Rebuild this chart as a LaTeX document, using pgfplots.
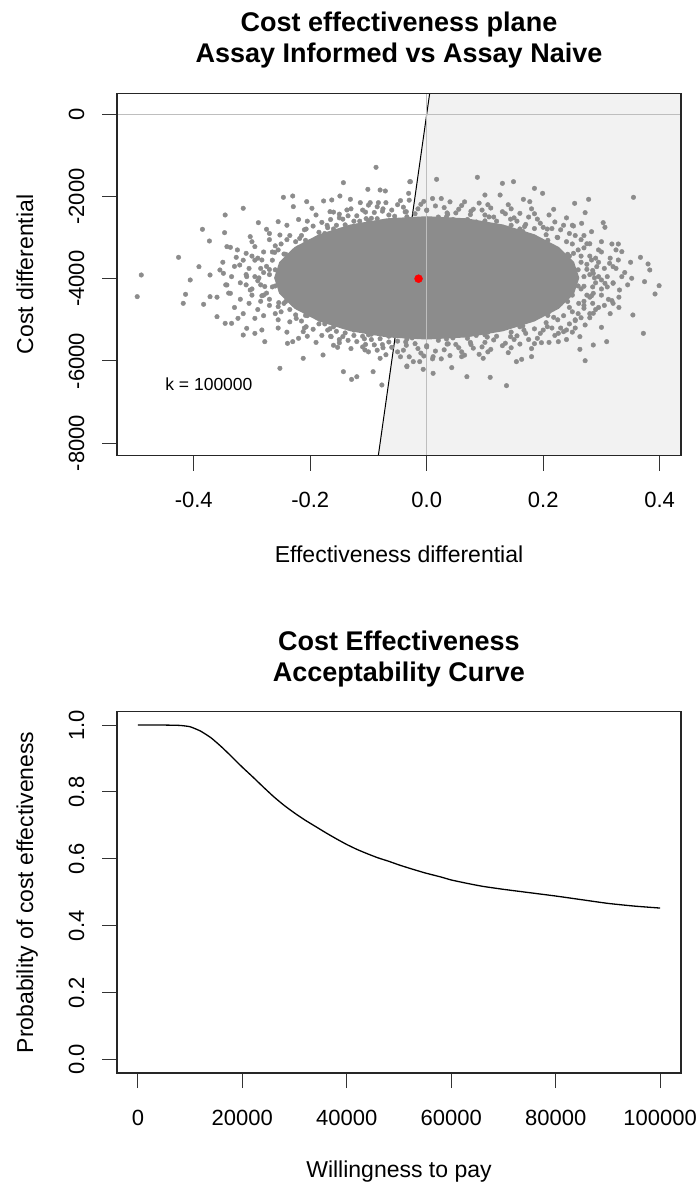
\documentclass[border=0pt]{standalone}
\usepackage{fontspec}
\setmainfont{Liberation Sans}
\usepackage{pgfplots}
\pgfplotsset{compat=1.18}
\usepackage{pgfplotstable}
\definecolor{ptgray}{RGB}{140,140,140}
\definecolor{shade}{RGB}{242,242,242}
\definecolor{zline}{RGB}{190,190,190}

% region of the cloud where the points cover the plane fully
\pgfplotstableread{
x y
0.262 -3980
0.253 -3592
0.227 -3230
0.185 -2920
0.131 -2681
0.068 -2531
0.000 -2480
-0.068 -2531
-0.131 -2681
-0.185 -2920
-0.227 -3230
-0.253 -3592
-0.262 -3980
-0.253 -4368
-0.227 -4730
-0.185 -5040
-0.131 -5279
-0.068 -5429
0.000 -5480
0.068 -5429
0.131 -5279
0.185 -5040
0.227 -4730
0.253 -4368
0.262 -3980
}\halopoly

\pgfplotstableread{
x y
0.275 -3772
0.252 -3383
0.224 -2993
0.168 -2731
0.107 -2497
0.036 -2434
-0.037 -2375
-0.104 -2539
-0.171 -2702
-0.218 -3020
-0.261 -3360
-0.270 -3776
-0.278 -4190
-0.254 -4583
-0.224 -4967
-0.166 -5217
-0.107 -5463
-0.036 -5541
0.037 -5585
0.104 -5421
0.167 -5253
0.218 -4939
0.261 -4600
0.270 -4184
0.288 -3980
0.283 -3545
0.250 -3155
0.207 -2792
0.144 -2551
0.076 -2357
0.000 -2330
-0.076 -2357
-0.144 -2551
-0.207 -2792
-0.250 -3155
-0.283 -3545
-0.288 -3980
-0.283 -4415
-0.250 -4805
-0.207 -5168
-0.144 -5409
-0.076 -5603
0.000 -5630
0.076 -5603
0.144 -5409
0.207 -5168
0.250 -4805
0.283 -4415
0.260 -3783
0.242 -3406
0.208 -3067
0.160 -2790
0.100 -2594
0.034 -2493
-0.034 -2493
-0.100 -2594
-0.160 -2790
-0.208 -3067
-0.242 -3406
-0.260 -3783
-0.260 -4177
-0.242 -4554
-0.208 -4893
-0.160 -5170
-0.100 -5366
-0.034 -5467
0.034 -5467
0.100 -5366
0.160 -5170
0.208 -4893
0.242 -4554
0.260 -4177
-0.490 -3910
-0.497 -4437
-0.426 -3480
-0.406 -4031
-0.391 -3708
-0.385 -2798
-0.373 -3083
-0.418 -4599
-0.383 -4623
-0.372 -4437
-0.414 -4380
-0.372 -3910
-0.346 -2450
-0.315 -2287
-0.347 -2880
-0.343 -3220
-0.337 -3237
-0.355 -3788
-0.349 -3869
-0.343 -4153
-0.337 -4356
-0.346 -5086
-0.360 -4924
-0.335 -5086
-0.315 -5370
-0.295 -5330
-0.278 -5532
-0.252 -6180
-0.212 -5937
-0.178 -5856
-0.143 -6262
-0.129 -6450
-0.120 -6385
-0.092 -6262
-0.077 -6586
-0.080 -5937
-0.034 -6140
-0.023 -6018
-0.006 -6205
-0.106 -5734
-0.153 -5670
-0.164 -5410
-0.230 -5532
-0.239 -5573
-0.212 -5289
-0.283 -5248
-0.295 -4964
-0.309 -5207
-0.324 -4964
-0.087 -1290
-0.143 -1664
-0.101 -1826
-0.080 -1842
-0.071 -1866
-0.029 -1640
-0.031 -1923
-0.246 -2020
-0.230 -1988
-0.206 -2125
-0.229 -2247
-0.197 -2287
-0.177 -2109
-0.163 -2085
-0.149 -1988
-0.131 -2068
-0.114 -2150
-0.097 -2150
-0.083 -2150
-0.166 -2369
-0.137 -2328
-0.289 -2637
-0.275 -2798
-0.255 -2612
-0.252 -2937
-0.303 -2977
-0.295 -3220
-0.310 -3383
-0.327 -3480
-0.321 -3667
-0.309 -3950
-0.303 -4275
0.355 -2020
0.367 -3480
0.380 -3642
0.383 -3788
0.352 -3990
0.374 -4072
0.399 -4170
0.392 -4372
0.354 -4883
0.372 -5329
0.318 -3156
0.329 -3156
0.335 -3342
0.306 -2750
0.303 -2637
0.314 -3626
0.320 -3707
0.329 -3545
0.300 -4031
0.306 -4112
0.320 -4112
0.331 -4275
0.312 -4502
0.318 -4534
0.300 -5183
0.309 -5532
0.286 -5613
0.272 -5995
0.263 -5718
0.226 -5532
0.197 -5557
0.180 -5897
0.163 -5962
0.154 -6018
0.137 -6602
0.109 -6400
0.069 -6384
0.011 -6302
-0.034 -6124
0.043 -6164
0.060 -5897
0.097 -5937
0.011 -5897
-0.012 -6018
0.087 -1533
0.017 -1582
-0.028 -1640
0.130 -1680
0.149 -1640
0.185 -1802
0.199 -1923
0.100 -1964
0.126 -1964
0.166 -2069
0.177 -2126
0.218 -2312
0.254 -2166
0.278 -2069
0.272 -2393
0.252 -2718
0.266 -2653
0.283 -2856
0.292 -3707
0.286 -3869
0.286 -4356
0.286 -4842
0.272 -5126
0.263 -5410
0.240 -5248
0.226 -5329
-0.240 -2700
-0.220 -2560
-0.210 -2810
-0.190 -2450
-0.180 -2630
-0.170 -2760
-0.160 -2380
-0.150 -2520
-0.140 -2690
-0.130 -2300
-0.120 -2470
-0.115 -2600
-0.100 -2210
-0.090 -2390
-0.085 -2540
-0.070 -2150
-0.060 -2330
-0.055 -2480
-0.040 -2260
-0.030 -2090
-0.020 -2420
-0.010 -2190
0.000 -2340
0.010 -2050
0.020 -2500
0.030 -2270
0.040 -2130
0.050 -2400
0.060 -2220
0.070 -2560
0.080 -2310
0.090 -2160
0.100 -2450
0.110 -2280
0.120 -2600
0.130 -2370
0.140 -2200
0.150 -2520
0.160 -2410
0.170 -2680
0.180 -2300
0.190 -2550
0.200 -2750
0.210 -2450
0.220 -2620
0.230 -2810
0.240 -2520
0.250 -2700
-0.235 -2950
-0.205 -2600
-0.175 -2900
-0.145 -2850
-0.125 -2750
-0.095 -2650
-0.065 -2600
-0.045 -2650
-0.025 -2560
0.005 -2600
0.025 -2680
0.045 -2560
0.065 -2700
0.085 -2620
0.105 -2700
0.125 -2780
0.145 -2700
0.165 -2850
0.185 -2780
0.205 -2930
0.225 -3000
0.245 -2900
0.265 -3050
0.280 -3150
0.295 -3300
-0.240 -5300
-0.220 -5450
-0.210 -5200
-0.190 -5550
-0.180 -5380
-0.170 -5250
-0.160 -5620
-0.150 -5480
-0.140 -5320
-0.130 -5700
-0.120 -5530
-0.110 -5400
-0.100 -5780
-0.090 -5610
-0.080 -5460
-0.070 -5850
-0.060 -5670
-0.050 -5520
-0.040 -5740
-0.030 -5900
-0.020 -5580
-0.010 -5810
0.000 -5660
0.010 -5950
0.020 -5500
0.030 -5730
0.040 -5870
0.050 -5600
0.060 -5780
0.070 -5450
0.080 -5690
0.090 -5840
0.100 -5550
0.110 -5720
0.120 -5400
0.130 -5630
0.140 -5800
0.150 -5480
0.160 -5590
0.170 -5330
0.180 -5700
0.190 -5450
0.200 -5250
0.210 -5550
0.220 -5380
0.230 -5200
0.240 -5480
0.250 -5300
-0.235 -5050
-0.205 -5400
-0.175 -5100
-0.145 -5150
-0.125 -5250
-0.095 -5350
-0.065 -5400
-0.045 -5350
-0.025 -5440
0.005 -5400
0.025 -5320
0.045 -5440
0.065 -5300
0.085 -5380
0.105 -5300
0.125 -5220
0.145 -5300
0.165 -5150
0.185 -5220
0.205 -5070
0.225 -5000
0.245 -5100
0.265 -4950
0.280 -4850
0.295 -4700
-0.200 -3100
-0.210 -3400
-0.205 -3700
-0.200 -4300
-0.210 -4600
-0.205 -4900
-0.220 -3250
-0.225 -3550
-0.230 -3850
-0.220 -4100
-0.225 -4450
-0.235 -4750
-0.240 -3050
-0.245 -3400
-0.250 -3700
-0.245 -4000
-0.250 -4300
-0.245 -4600
-0.260 -3200
-0.265 -3550
-0.270 -3900
-0.265 -4200
-0.270 -4500
-0.260 -4850
-0.280 -3350
-0.285 -3750
-0.290 -4050
-0.280 -4400
-0.295 -3550
-0.300 -4250
-0.310 -3900
-0.305 -4600
-0.320 -4100
-0.330 -3700
-0.340 -4350
-0.270 -3050
-0.255 -5000
-0.290 -4750
-0.300 -3450
0.200 -3200
0.210 -3500
0.205 -3800
0.210 -4200
0.200 -4500
0.210 -4800
0.220 -3350
0.225 -3650
0.230 -3950
0.225 -4300
0.230 -4600
0.235 -4900
0.240 -3100
0.245 -3450
0.250 -3800
0.245 -4100
0.250 -4400
0.245 -4700
0.260 -3300
0.265 -3600
0.270 -3950
0.265 -4250
0.270 -4550
0.260 -4850
0.280 -3450
0.285 -3800
0.290 -4100
0.280 -4450
0.295 -3600
0.300 -4250
0.310 -3950
0.305 -4650
0.320 -4100
0.325 -3750
0.330 -4450
0.275 -3150
0.255 -5000
0.290 -4750
0.300 -3350
-0.195 -2720
-0.185 -2870
-0.165 -2560
-0.155 -2700
-0.135 -2470
-0.125 -2600
-0.105 -2380
-0.095 -2530
-0.075 -2300
-0.065 -2450
-0.050 -2200
-0.035 -2370
-0.015 -2300
0.015 -2230
0.035 -2400
0.055 -2310
0.075 -2440
0.095 -2330
0.115 -2500
0.135 -2420
0.155 -2600
0.175 -2500
0.195 -2650
0.215 -2780
0.235 -2700
-0.215 -2950
-0.225 -3100
0.255 -2950
0.270 -3250
-0.255 -3300
-0.005 -2120
0.025 -2050
-0.045 -2100
0.065 -2130
0.105 -2200
-0.085 -2250
-0.110 -2330
0.145 -2300
-0.150 -2430
0.185 -2420
-0.195 -5230
-0.185 -5100
-0.165 -5400
-0.155 -5280
-0.135 -5500
-0.125 -5380
-0.105 -5600
-0.095 -5480
-0.075 -5680
-0.065 -5540
-0.050 -5780
-0.035 -5620
-0.015 -5700
0.015 -5760
0.035 -5590
0.055 -5680
0.075 -5550
0.095 -5660
0.115 -5490
0.135 -5570
0.155 -5390
0.175 -5480
0.195 -5330
0.215 -5200
0.235 -5290
-0.215 -5030
-0.225 -4880
0.255 -5020
0.270 -4720
-0.255 -4680
-0.005 -5880
0.025 -5950
-0.045 -5900
0.065 -5860
0.105 -5780
-0.085 -5740
-0.110 -5660
0.145 -5680
-0.150 -5560
0.185 -5580
-0.265 -3350
-0.275 -3700
-0.280 -3850
-0.285 -4150
-0.275 -4350
-0.270 -4650
-0.290 -3500
-0.295 -3950
-0.300 -4400
-0.285 -4550
-0.305 -3750
-0.310 -4150
-0.315 -3550
-0.320 -4500
-0.335 -3950
-0.345 -4150
-0.325 -3300
-0.330 -4700
-0.350 -3600
-0.360 -4450
-0.315 -4850
-0.300 -3100
-0.280 -4900
-0.270 -2900
-0.255 -5200
0.265 -3450
0.275 -3650
0.280 -3900
0.285 -4200
0.275 -4400
0.270 -4650
0.290 -3500
0.295 -3950
0.300 -4400
0.285 -4600
0.305 -3750
0.310 -4200
0.315 -3500
0.320 -4600
0.335 -3950
0.345 -4150
0.325 -3300
0.330 -4700
0.350 -3600
0.340 -3850
0.315 -4850
0.300 -3100
0.280 -4950
0.270 -2950
0.255 -5200
}\scatterpts

\pgfplotstableread{
x y
0 1.000
5000 1.000
8000 0.999
10000 0.995
12000 0.982
14000 0.962
16000 0.935
18000 0.905
20000 0.874
22000 0.845
24000 0.815
26000 0.786
28000 0.760
30000 0.737
32000 0.716
34000 0.697
36000 0.678
38000 0.660
40000 0.643
42000 0.628
44000 0.615
46000 0.603
48000 0.593
50000 0.582
52000 0.572
55000 0.558
58000 0.546
60000 0.537
63000 0.527
66000 0.518
70000 0.509
75000 0.499
80000 0.489
85000 0.478
90000 0.467
95000 0.459
100000 0.453
}\ceac

\pgfplotsset{
  rstyle/.style={
    scale only axis, axis on top, clip=true,
    scaled ticks=false,
    tick align=outside, major tick length=15bp,
    xtick pos=bottom, ytick pos=left,
    tick style={line width=1bp, black!80},
    axis line style={line width=1.2bp, black!85},
    ticklabel style={font=\fontsize{22bp}{26bp}\selectfont},
    /pgf/number format/assume math mode=true,
    xticklabel style={anchor=base, yshift=-37.3bp},
    yticklabel style={xshift=-18bp, rotate=90, anchor=base},
  }
}

\begin{document}
\begin{tikzpicture}[x=1bp,y=1bp]
\path[use as bounding box] (0,0) rectangle (699,1193);

% ---------- top panel ----------
\begin{axis}[rstyle,
  at={(117bp,737.3bp)}, anchor=south west,
  width=564bp, height=362.4bp,
  xmin=-0.5317, xmax=0.4366, ymin=-8306, ymax=511,
  xtick={-0.4,-0.2,0,0.2,0.4},
  xticklabels={-0.4,-0.2,0.0,0.2,0.4},
  ytick={-8000,-6000,-4000,-2000,0},
  yticklabels={-8000,-6000,-4000,-2000,0},
]
\addplot[fill=shade, draw=none] coordinates {(0.00511,511) (0.4366,511) (0.4366,-8306) (-0.08306,-8306) (0.00511,511)};
\addplot[black, line width=1bp] coordinates {(0.00511,511) (-0.08306,-8306)};
\addplot[fill=ptgray, draw=none] table {\halopoly};
\addplot[only marks, mark=*, color=ptgray, mark size=2.3bp] table {\scatterpts};
\addplot[zline, line width=1bp] coordinates {(-0.5317,0) (0.4366,0)};
\addplot[zline, line width=1bp] coordinates {(0,511) (0,-8306)};
\addplot[only marks, mark=*, color=red, mark size=4bp] coordinates {(-0.014,-4000)};
\node[anchor=base west, font=\fontsize{17.5bp}{20bp}\selectfont, inner sep=0pt] at (axis cs:-0.449,-6725) {k = 100000};
\end{axis}

\node[anchor=base, font=\fontsize{27bp}{32bp}\selectfont\bfseries] at (399,1161) {Cost effectiveness plane};
\node[anchor=base, font=\fontsize{27bp}{32bp}\selectfont\bfseries] at (399,1130) {Assay Informed vs Assay Naive};
\node[anchor=base, font=\fontsize{23bp}{27bp}\selectfont] at (399,630) {Effectiveness differential};
\node[anchor=base, rotate=90, font=\fontsize{23bp}{27bp}\selectfont] at (33,918.5) {Cost differential};

% ---------- bottom panel ----------
\begin{axis}[rstyle,
  at={(117bp,120bp)}, anchor=south west,
  width=564bp, height=361.3bp,
  xmin=-4000, xmax=104000, ymin=-0.04, ymax=1.04,
  xtick={0,20000,40000,60000,80000,100000},
  xticklabels={0,20000,40000,60000,80000,100000},
  ytick={0,0.2,0.4,0.6,0.8,1},
  yticklabels={0.0,0.2,0.4,0.6,0.8,1.0},
]
\addplot[black, line width=1.3bp, smooth, tension=0.3] table {\ceac};
\end{axis}

\node[anchor=base, font=\fontsize{27bp}{32bp}\selectfont\bfseries] at (399,542.3) {Cost Effectiveness};
\node[anchor=base, font=\fontsize{27bp}{32bp}\selectfont\bfseries] at (399,511.3) {Acceptability Curve};
\node[anchor=base, font=\fontsize{23bp}{27bp}\selectfont] at (399,15) {Willingness to pay};
\node[anchor=base, rotate=90, font=\fontsize{23bp}{27bp}\selectfont] at (33,300.6) {Probability of cost effectiveness};
\end{tikzpicture}
\end{document}
